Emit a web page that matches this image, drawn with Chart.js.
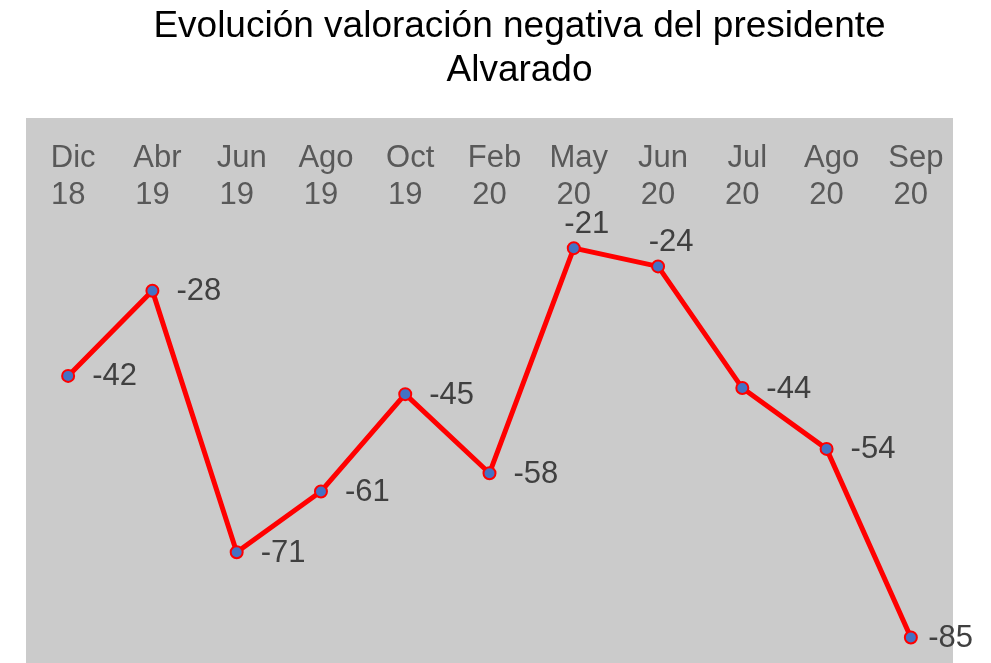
<!DOCTYPE html>
<html>
<head>
<meta charset="utf-8">
<script src="https://cdn.jsdelivr.net/npm/chart.js@4"></script>
<style>
  body { margin: 0; background: #fff; }
  #wrap { position: relative; width: 991px; height: 663px; }
  #title {
    position: absolute; top: 3px; left: 48px; width: 943px;
    text-align: center; font: 37px/44px "Liberation Sans", Arial, sans-serif; color: #000;
  }
  canvas { position: absolute; top: 0; left: 0; }
</style>
</head>
<body>
<div id="wrap">
  <canvas id="chart" width="991" height="663"></canvas>
  <div id="title">Evolución valoración negativa del presidente<br>Alvarado</div>
</div>
<script>
// Data
const months = ['Dic', 'Abr', 'Jun', 'Ago', 'Oct', 'Feb', 'May', 'Jun', 'Jul', 'Ago', 'Sep'];
const years = ['18', '19', '19', '19', '19', '20', '20', '20', '20', '20', '20'];
const negativeRating = [-42, -28, -71, -61, -45, -58, -21, -24, -44, -54, -85];

const FONT = '"Liberation Sans", Arial, sans-serif';

// grey panel behind the plot, month/year labels inside it, value labels next to points
const panelPlugin = {
    id: 'panel',
    beforeDraw(chart) {
        const { ctx, chartArea } = chart;
        ctx.save();
        ctx.fillStyle = '#cbcbcb';
        ctx.fillRect(chartArea.left, chartArea.top, chartArea.right - chartArea.left, chartArea.bottom - chartArea.top);

        // category labels along the top, inside the panel
        const x = chart.scales.x;
        ctx.font = '31px ' + FONT;
        ctx.fillStyle = '#595959';
        ctx.textAlign = 'center';
        ctx.textBaseline = 'alphabetic';
        months.forEach((m, i) => {
            const px = x.getPixelForValue(i);
            ctx.fillText(m, px + 5, chartArea.top + 49);
            ctx.fillText(years[i], px, chartArea.top + 86);
        });
        ctx.restore();
    },
    afterDatasetsDraw(chart) {
        const { ctx } = chart;
        const meta = chart.getDatasetMeta(0);
        ctx.save();
        ctx.font = '31px ' + FONT;
        ctx.fillStyle = '#404040';
        meta.data.forEach((pt, i) => {
            const text = String(negativeRating[i]);
            const w = ctx.measureText(text).width;
            if (negativeRating[i] > -25) {
                // labels near the top sit above the point
                ctx.textAlign = 'center';
                ctx.textBaseline = 'alphabetic';
                ctx.fillText(text, pt.x + 13, pt.y - 15);
            } else {
                let lx = pt.x + 24;
                if (lx + w > chart.width - 18) lx = chart.width - 18 - w;
                ctx.textAlign = 'left';
                ctx.textBaseline = 'middle';
                ctx.fillText(text, lx, pt.y + 1);
            }
        });
        ctx.restore();
    }
};

new Chart(document.getElementById('chart').getContext('2d'), {
    type: 'line',
    data: {
        labels: months.map((m, i) => m + ' ' + years[i]),
        datasets: [{
            data: negativeRating,
            borderColor: '#ff0000',
            borderWidth: 5,
            tension: 0,
            pointRadius: 6,
            pointBorderWidth: 2,
            pointBackgroundColor: '#4472c4',
            pointBorderColor: '#ff0000',
            clip: false
        }]
    },
    options: {
        responsive: false,
        devicePixelRatio: 1,
        animation: false,
        layout: {
            autoPadding: false,
            padding: { left: 26, right: 38, top: 118, bottom: 0 }
        },
        scales: {
            x: { display: false, offset: true },
            y: { display: false, min: -89.2, max: 0.4 }
        },
        plugins: {
            legend: { display: false },
            title: { display: false },
            tooltip: { enabled: false }
        }
    },
    plugins: [panelPlugin]
});
</script>
</body>
</html>
